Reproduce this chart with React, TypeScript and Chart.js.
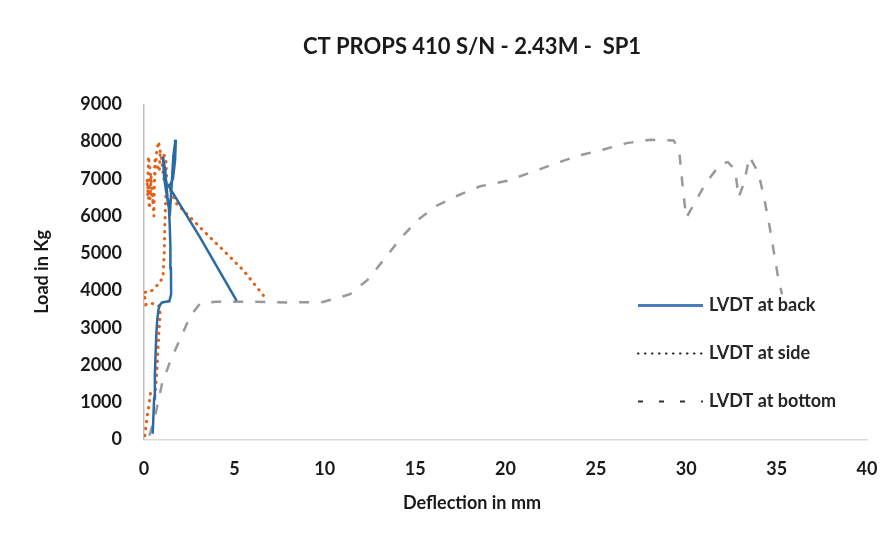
import React, { useEffect, useRef } from "react";
import { Chart, registerables } from "chart.js";

Chart.register(...registerables);

const TITLE = "CT PROPS 410 S/N - 2.43M -  SP1";
const X_TITLE = "Deflection in mm";
const Y_TITLE = "Load in Kg";
const SERIES_NAMES = ["LVDT at back", "LVDT at side", "LVDT at bottom"];
const X_MIN = 0;
const X_MAX = 40;
const X_STEP = 5;
const Y_MIN = 0;
const Y_MAX = 9000;
const Y_STEP = 1000;

// LVDT at back (solid blue)
const backX = [0.48, 0.52, 0.56, 0.6, 0.64, 0.68, 0.73, 0.8, 0.86, 1.0, 1.2, 1.4, 1.5, 1.49, 1.46, 1.42, 1.38, 1.25, 1.12, 1.05, 1.18, 1.3, 1.45, 1.55, 1.62, 1.7, 1.76, 1.72, 1.6, 1.45, 1.35, 3.1, 5.13];
const backY = [150, 600, 1100, 1700, 2300, 2800, 3200, 3480, 3600, 3680, 3700, 3710, 3900, 4600, 5200, 5800, 6200, 6600, 7000, 7600, 7200, 6500, 6200, 7000, 7600, 7900, 8050, 7500, 7000, 6850, 6820, 5430, 3720];

// LVDT at side (orange dotted)
const sideX = [0.05, 0.12, 0.2, 0.3, 0.36, 0.6, 0.68, 0.75, 0.82, 0.88, 0.9, 0.6, 0.3, 0.1, 0.0, 0.35, 0.75, 1.05, 1.12, 1.15, 1.2, 1.25, 1.2, 0.9, 0.85, 0.6, 0.55, 0.45, 0.25, 0.2, 0.4, 0.3, 0.15, 0.5, 0.7, 0.8, 0.95, 1.1, 1.35, 1.81, 2.73, 3.65, 4.58, 5.5, 6.6, 6.79];
const sideY = [100, 400, 700, 1000, 1250, 1150, 1600, 2200, 2800, 3300, 3560, 3640, 3660, 3620, 3950, 3960, 4150, 4350, 5000, 5700, 6400, 7100, 7600, 7700, 7200, 7500, 6000, 6700, 7600, 6500, 7100, 6200, 7000, 6400, 7700, 8000, 7600, 7000, 6800, 6330, 5880, 5430, 4990, 4540, 3870, 3730];

// LVDT at bottom (grey dashed)
const bottomX = [0.3, 0.6, 1.0, 1.45, 2.0, 2.55, 3.1, 4.0, 6.0, 8.0, 9.9, 11.4, 12.4, 13.3, 14.2, 15.1, 16.2, 17.4, 18.6, 20.1, 21.4, 22.7, 24.0, 25.2, 26.7, 28.0, 29.3, 29.6, 29.8, 30.0, 30.4, 31.1, 31.9, 32.3, 32.7, 32.9, 33.2, 33.5, 34.0, 34.3, 34.6, 34.85, 35.1, 35.3];
const bottomY = [100, 600, 1500, 2100, 2700, 3300, 3650, 3700, 3700, 3680, 3690, 3900, 4300, 4850, 5400, 5880, 6280, 6560, 6800, 6950, 7170, 7400, 7620, 7760, 7960, 8050, 8030, 7800, 6800, 5950, 6300, 6900, 7400, 7450, 7250, 6500, 6900, 7600, 7150, 6500, 5750, 5030, 4300, 3900];

const toPoints = (xs: number[], ys: number[]) => xs.map((x, i) => ({ x, y: ys[i] }));

const LEGEND_STYLES = [
  { color: "#4a7ebb", width: 3, dash: [] as number[], cap: "butt" as CanvasLineCap },
  { color: "#1a1a1a", width: 2, dash: [0.5, 6.5], cap: "round" as CanvasLineCap },
  { color: "#333333", width: 2, dash: [5, 16], cap: "butt" as CanvasLineCap },
];

const insideLegend = {
  id: "insideLegend",
  afterDraw(chart: any) {
    const { ctx, chartArea } = chart;
    const x0 = chartArea.right - 229;
    const x1 = chartArea.right - 164;
    const tx = chartArea.right - 158;
    const rows = [chartArea.top + 201, chartArea.top + 249, chartArea.top + 297];
    chart.data.datasets.forEach((ds: any, i: number) => {
      const st = LEGEND_STYLES[i];
      const y = rows[i];
      ctx.save();
      ctx.strokeStyle = st.color;
      ctx.lineWidth = st.width;
      ctx.lineCap = st.cap;
      ctx.setLineDash(st.dash);
      ctx.beginPath();
      ctx.moveTo(x0, y);
      ctx.lineTo(x1, y);
      ctx.stroke();
      ctx.setLineDash([]);
      ctx.fillStyle = "#262626";
      ctx.font = "bold 18px Lato";
      ctx.textBaseline = "middle";
      ctx.textAlign = "left";
      ctx.fillText(ds.label, tx, y);
      ctx.restore();
    });
  },
};

export default function App() {
  const ref = useRef<HTMLCanvasElement | null>(null);

  useEffect(() => {
    document.body.style.margin = "0";
    const canvas = ref.current;
    if (!canvas) return;
    const chart = new Chart(canvas, {
      type: "line",
      data: {
        datasets: [
          {
            label: SERIES_NAMES[0],
            data: toPoints(backX, backY),
            borderColor: "#2b6aa3",
            borderWidth: 2.5,
            pointRadius: 0,
            tension: 0,
            fill: false,
          },
          {
            label: SERIES_NAMES[1],
            data: toPoints(sideX, sideY),
            borderColor: "#e2621b",
            borderWidth: 3,
            borderDash: [0.5, 6.5],
            borderCapStyle: "round",
            pointRadius: 0,
            tension: 0,
            fill: false,
          },
          {
            label: SERIES_NAMES[2],
            data: toPoints(bottomX, bottomY),
            borderColor: "#999999",
            borderWidth: 2.5,
            borderDash: [10, 12],
            pointRadius: 0,
            tension: 0,
            fill: false,
          },
        ],
      },
      options: {
        animation: false,
        responsive: false,
        maintainAspectRatio: false,
        parsing: false as any,
        layout: { padding: { left: 77, right: 18, top: 0, bottom: 0 } },
        plugins: {
          legend: { display: false },
          tooltip: { enabled: false },
          title: {
            display: true,
            text: TITLE,
            color: "#1a1a1a",
            font: { family: "Lato", size: 22, weight: "bold", lineHeight: 1.2 },
            padding: { top: 34, bottom: 44 },
          },
          subtitle: {
            display: true,
            position: "bottom",
            text: X_TITLE,
            color: "#1a1a1a",
            font: { family: "Lato", size: 18, weight: "bold", lineHeight: 1.2 },
            padding: { top: 13, bottom: 21 },
          },
        },
        scales: {
          x: {
            type: "linear",
            min: X_MIN,
            max: X_MAX,
            afterFit: (s: any) => {
              s.height = 40;
              s.paddingLeft = 0;
              s.paddingRight = 0;
            },
            ticks: {
              stepSize: X_STEP,
              padding: 19,
              color: "#1a1a1a",
              font: { family: "Lato", size: 18, weight: "bold" },
            },
            grid: { display: false, drawTicks: false },
            border: { display: true, color: "#d9d9d9", width: 1.5 },
          },
          y: {
            type: "linear",
            min: Y_MIN,
            max: Y_MAX,
            afterFit: (s: any) => {
              s.width = 67;
            },
            ticks: {
              stepSize: Y_STEP,
              padding: 22,
              color: "#1a1a1a",
              font: { family: "Lato", size: 18, weight: "bold" },
              callback: (v: any) => String(v),
            },
            grid: { display: false, drawTicks: false },
            border: { display: true, color: "#bfbfbf", width: 1.5 },
            title: {
              display: true,
              text: Y_TITLE,
              color: "#1a1a1a",
              font: { family: "Lato", size: 18, weight: "bold", lineHeight: 1.2 },
              padding: { top: -45.8, bottom: 0 },
            },
          },
        },
      },
      plugins: [insideLegend],
    });
    return () => chart.destroy();
  }, []);

  return (
    <div style={{ width: 885, height: 535, overflow: "hidden", background: "#ffffff" }}>
      <canvas ref={ref} width={885} height={535} style={{ display: "block" }} />
    </div>
  );
}
